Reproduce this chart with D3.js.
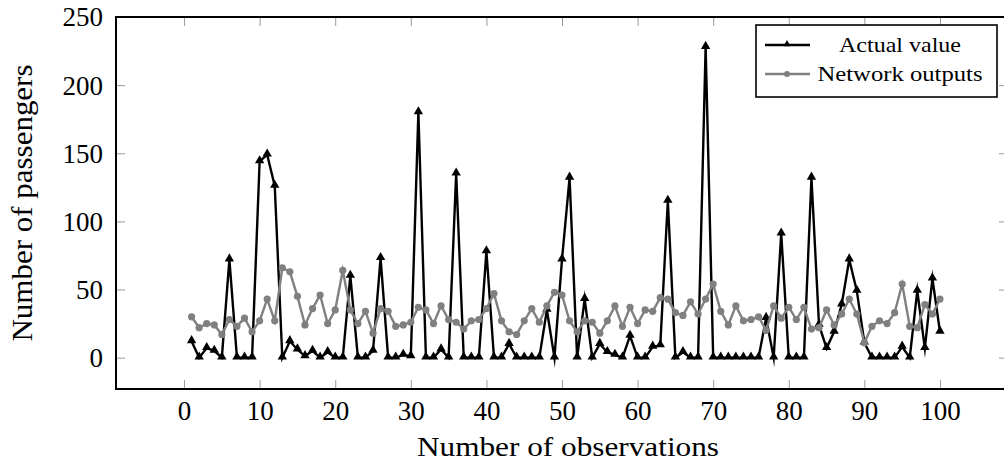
<!DOCTYPE html>
<html><head><meta charset="utf-8">
<script src="https://cdn.jsdelivr.net/npm/d3@7"></script>
<style>
html,body{margin:0;padding:0;background:#fff;}
svg{display:block;}
text{font-family:"Liberation Serif","Times New Roman",serif;fill:#000;}
</style></head>
<body>
<svg id="chart" width="1004" height="465"></svg>
<script>
const observations = d3.range(1, 101);
const actualValue = [12,0,7,5,0,72,0,0,0,144,149,126,0,12,6,1,5,0,4,0,
  0,60,0,0,5,73,0,0,2,1,180,0,0,6,0,135,0,0,0,78,
  0,0,10,0,0,0,0,35,0,72,132,0,43,0,10,4,2,0,16,0,
  0,8,9,115,0,4,0,0,228,0,0,0,0,0,0,0,29,0,91,0,
  0,0,132,24,7,19,39,72,49,11,0,0,0,0,8,0,49,7,58,19];
const networkOutputs = [30,22,25,24,17,28,23,29,19,27,43,27,66,63,45,24,36,46,25,35,
  64,35,25,34,18,36,34,23,24,26,37,35,25,38,28,26,21,27,28,36,
  47,27,19,17,27,36,26,38,48,46,27,19,27,26,18,27,38,23,37,25,
  35,34,44,43,33,31,41,32,43,54,34,24,38,27,28,30,20,38,29,37,
  28,37,21,22,35,24,32,43,32,11,23,27,25,33,54,23,22,39,32,43];
const xTicks = [0,10,20,30,40,50,60,70,80,90,100];
const yTicks = [0,50,100,150,200,250];
const seriesNames = ["Actual value","Network outputs"];

const svg = d3.select("#chart");
const L = 116, R = 1008, T = 17, B = 389;
const x = d3.scaleLinear().domain([-9, 109]).range([L, R]);
const y = d3.scaleLinear().domain([-23, 250]).range([B, T]);

// ticks
const tickColor = "#9a9a9a";
const gx = svg.append("g").attr("transform", `translate(0,${B})`)
  .call(d3.axisBottom(x).tickValues(xTicks).tickSize(-9).tickPadding(13).tickFormat(d3.format("d")));
const gxt = svg.append("g").attr("transform", `translate(0,${T})`)
  .call(d3.axisTop(x).tickValues(xTicks).tickSize(-9).tickFormat(""));
const gy = svg.append("g").attr("transform", `translate(${L},0)`)
  .call(d3.axisLeft(y).tickValues(yTicks).tickSize(-9).tickPadding(14).tickFormat(d3.format("d")));
const gyr = svg.append("g").attr("transform", `translate(${R},0)`)
  .call(d3.axisRight(y).tickValues(yTicks).tickSize(-9).tickFormat(""));
[gx,gxt,gy,gyr].forEach(g=>{
  g.select(".domain").remove();
  g.selectAll(".tick line").attr("stroke", tickColor).attr("stroke-width", 1);
  g.selectAll(".tick text").attr("font-family","Liberation Serif, serif").attr("font-size", 27).attr("fill","#000");
});
gx.selectAll(".tick text").attr("dy", null).attr("y", 31);
gy.selectAll(".tick text").attr("dy", "0.33em").attr("x", -13);

// frame
svg.append("rect").attr("x", L).attr("y", T).attr("width", R-L).attr("height", B-T)
  .attr("fill","none").attr("stroke","#000").attr("stroke-width", 2);

const line = d3.line().x((d,i)=>x(observations[i])).y(d=>y(d));
const tri = d3.symbol().type(d3.symbolTriangle).size(38);

// actual
svg.append("path").datum(actualValue).attr("d", line)
  .attr("fill","none").attr("stroke","#000").attr("stroke-width",2.4)
  .attr("stroke-linejoin","miter").attr("stroke-miterlimit",10);
svg.append("g").selectAll("path").data(actualValue).join("path")
  .attr("d", tri).attr("transform",(d,i)=>`translate(${x(observations[i])},${y(d)-0.8})`)
  .attr("fill","#000");

// network
const gray = "#808080";
svg.append("path").datum(networkOutputs).attr("d", line)
  .attr("fill","none").attr("stroke",gray).attr("stroke-width",2.4)
  .attr("stroke-linejoin","miter").attr("stroke-miterlimit",10);
svg.append("g").selectAll("circle").data(networkOutputs).join("circle")
  .attr("cx",(d,i)=>x(observations[i])).attr("cy",d=>y(d)).attr("r",3.6)
  .attr("fill",gray);

// legend
const lg = svg.append("g");
lg.append("rect").attr("x",756).attr("y",25).attr("width",241).attr("height",72)
  .attr("fill","#fff").attr("stroke","#000").attr("stroke-width",1.6);
const rows = [{name:seriesNames[0], color:"#000", mark:"tri", y:45, w:122},
              {name:seriesNames[1], color:gray, mark:"circ", y:74, w:165}];
rows.forEach(r=>{
  lg.append("line").attr("x1",765).attr("x2",810).attr("y1",r.y).attr("y2",r.y)
    .attr("stroke",r.color).attr("stroke-width",2.4);
  if(r.mark==="tri"){
    lg.append("path").attr("d", d3.symbol().type(d3.symbolTriangle).size(22)).attr("transform",`translate(787,${r.y-0.8})`).attr("fill",r.color);
  } else {
    lg.append("circle").attr("cx",787).attr("cy",r.y).attr("r",3).attr("fill",r.color);
  }
  lg.append("text").attr("x",900).attr("y",r.y+7).attr("text-anchor","middle")
    .attr("font-size",22).attr("textLength",r.w).attr("lengthAdjust","spacingAndGlyphs").text(r.name);
});

// axis titles
svg.append("text").attr("x", 568).attr("y", 456).attr("text-anchor","middle")
  .attr("font-size", 28).attr("textLength",302).attr("lengthAdjust","spacingAndGlyphs").text("Number of observations");
svg.append("text").attr("transform","translate(32,203) rotate(-90)").attr("text-anchor","middle")
  .attr("font-size", 29).attr("textLength",277).attr("lengthAdjust","spacingAndGlyphs").text("Number of passengers");
</script>
</body></html>
